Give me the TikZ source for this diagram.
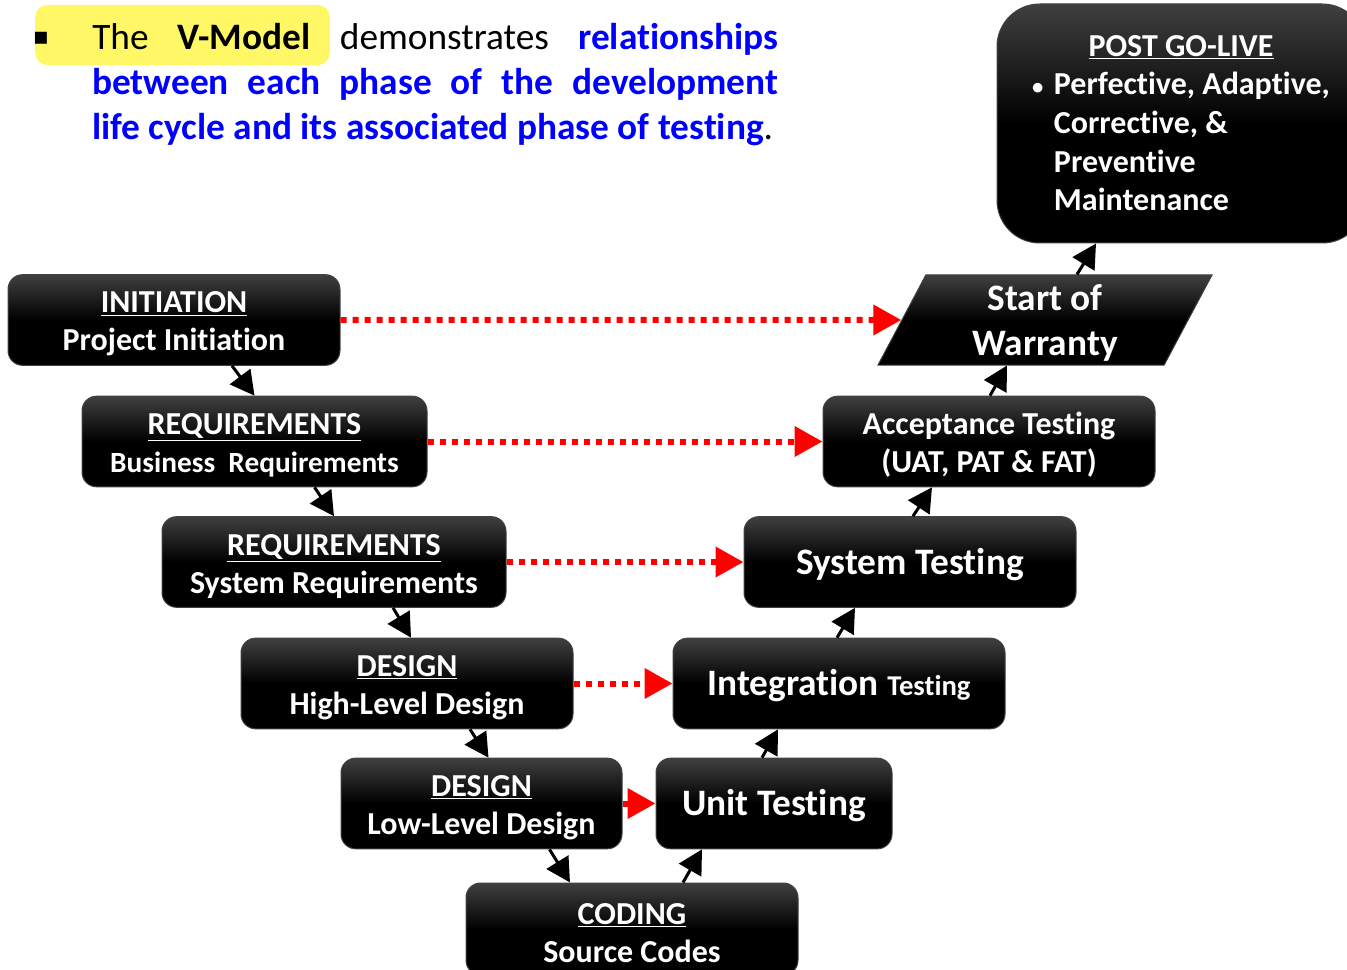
\documentclass[tikz,border=0pt]{standalone}
\usepackage{fontspec}
\setmainfont{Carlito}[Ligatures=NoCommon]
\newfontfamily\djv{DejaVu Sans}
\usetikzlibrary{arrows.meta,calc,shapes.geometric}
\newcommand\tstr[1]{\rule{0pt}{#1}}
\tikzset{
  shadebox/.style={draw=black!75, line width=0.75pt, top color=black!75, bottom color=black, middle color=black, text=white, align=center, inner sep=0pt},
  box/.style={shadebox, rounded corners=11pt, font=\bfseries\fontsize{24}{28.5}\selectfont, minimum width=249pt, minimum height=68pt},
  onebox/.style={box, font=\bfseries\fontsize{28}{33}\selectfont,
    execute at begin node={\rule{0pt}{25pt}}, execute at end node={\rule[-7pt]{0pt}{0pt}}},
  blk/.style={-{Triangle[length=18pt,width=19pt]}, line width=2.25pt},
  rdot/.style={draw=red, line width=4.5pt, dash pattern=on 4.5pt off 4.5pt, -{Triangle[length=21pt,width=22pt]}},
}
\begin{document}
\begin{tikzpicture}[x=0.75pt,y=-0.75pt]
\useasboundingbox (0,0) rectangle (1347,970);
% title
\node[fill=yellow!60, rounded corners=9pt, minimum width=221pt, minimum height=45pt, inner sep=0] (hl) at (182.5,35) {};
\node[inner sep=0, font=\djv\fontsize{18}{20}\selectfont] (bul) at (41,38) {▪};
\node[anchor=base west, inner sep=0, font=\fontsize{28}{35}\selectfont] (l1) at (92,50)
  {\hbox to 514.5pt{The\hfill\textbf{V-Model}\hfill demonstrates\hfill\textcolor{blue}{\textbf{relationships}}}};
\node[anchor=base west, inner sep=0, font=\bfseries\fontsize{28}{35}\selectfont, text=blue] (l2) at (92,95)
  {\hbox to 514.5pt{between\hfill each\hfill phase\hfill of\hfill the\hfill development}};
\node[anchor=base west, inner sep=0, font=\fontsize{28}{35}\selectfont] (l3) at (92,140)
  {\textcolor{blue}{\textbf{life cycle and its associated phase of testing}}.};
% left side
\node[box] (ini) at (174,320) {\tstr{22pt}\underline{INITIATION}\\Project Initiation};
\node[box, minimum width=258.75pt] (req1) at (254.5,441.5) {\tstr{22pt}\underline{REQUIREMENTS}\\{\fontsize{22}{28.5}\selectfont Business\ \ Requirements}};
\node[box, minimum width=258pt] (req2) at (334,562) {\tstr{22pt}\underline{REQUIREMENTS}\\System Requirements};
\node[box] (hld) at (407,683.5) {\tstr{22pt}\underline{DESIGN}\\High-Level Design};
\node[box, minimum width=210.75pt] (lld) at (481.5,803.5) {\tstr{22pt}\underline{DESIGN}\\Low-Level Design};
\node[box, minimum height=69pt] (cod) at (632,929) {\tstr{22pt}\underline{CODING}\\Source Codes};
% right side
\node[onebox, minimum width=177pt] (unit) at (774,803.5) {Unit Testing};
\node[onebox] (integ) at (839,683.5) {Integration {\fontsize{21.5}{30}\selectfont Testing}};
\node[onebox] (sys) at (910,562) {System Testing};
\node[box] (acc) at (989,441.5) {\tstr{22pt}Acceptance Testing\\(UAT, PAT \& FAT)};
\node[shadebox, shape=trapezium, trapezium left angle=60, trapezium right angle=120, trapezium stretches body,
  minimum width=250.5pt, minimum height=67.5pt, font=\bfseries\fontsize{28}{33.75}\selectfont] (war) at (1045,320) {\tstr{24pt}Start of\\Warranty};
\node[shadebox, rounded corners=32pt, minimum width=276pt, minimum height=179.25pt, font=\bfseries\fontsize{24}{29}\selectfont] (post) at (1181,123.5)
  {\begin{tabular}{@{}l@{\hspace{8pt}}l@{}}\multicolumn{2}{c}{\rule{0pt}{23.5pt}\underline{POST GO-LIVE}}\\
   {\fontsize{17}{29}\selectfont •}&Perfective, Adaptive,\\ &Corrective, \&\\ &Preventive\\ &Maintenance\end{tabular}};
% black connectors
\draw[blk] ($(ini.south)+(58,0)$) -- (req1.north);
\draw[blk] ($(req1.south)+(60,0)$) -- (req2.north);
\draw[blk] ($(req2.south)+(59,0)$) -- ($(hld.north)+(4,0)$);
\draw[blk] ($(hld.south)+(63,0)$) -- ($(lld.north)+(7,0)$);
\draw[blk] ($(lld.south)+(68,0)$) -- ($(cod.north)+(-62,0)$);
\draw[blk] ($(cod.north)+(51,0)$) -- ($(unit.south)+(-72,0)$);
\draw[blk] ($(unit.north)+(-12,0)$) -- ($(integ.south)+(-61,0)$);
\draw[blk] ($(integ.north)+(-2,0)$) -- ($(sys.south)+(-55,0)$);
\draw[blk] ($(sys.north)+(3,0)$) -- ($(acc.south)+(-57,0)$);
\draw[blk] ($(acc.north)+(1,0)$) -- ($(war.south)+(-38,0)$);
\draw[blk] ($(war.north)+(32,0)$) -- ($(post.south)+(-85,0)$);
% red dotted connectors
\draw[rdot] (ini.east) -- (war.west);
\draw[rdot] (req1.east) -- (acc.west);
\draw[rdot] (req2.east) -- (sys.west);
\draw[rdot] (hld.east) -- (integ.west);
\draw[rdot] (lld.east) -- (unit.west);
\end{tikzpicture}
\end{document}
